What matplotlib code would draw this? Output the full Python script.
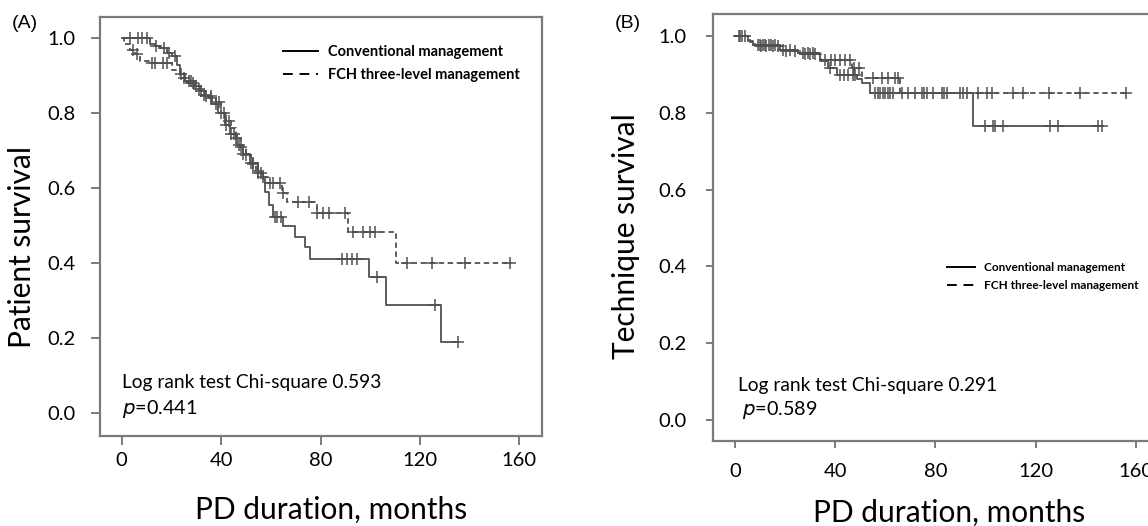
import numpy as np
import matplotlib.pyplot as plt
from matplotlib.lines import Line2D

plt.rcParams['font.family'] = ['Lato', 'DejaVu Sans']

# ---- panel A: patient survival (time in months, survival fraction) ----
a_conv_t = [0, 11.4, 13.4, 15.4, 18.2, 20.2, 22.2, 23.5, 25.5, 29.5, 31.5, 33.5, 36.3, 38.7,
            41.5, 43.5, 46.4, 48.8, 51.6, 54.8, 56.8, 57.6, 59.2, 60.8, 64.9, 69.7, 73.7,
            75.7, 99.3, 106.5, 128.6]
a_conv_s = [1.0, 0.985, 0.98, 0.975, 0.962, 0.954, 0.93, 0.905, 0.885, 0.872, 0.86, 0.847,
            0.826, 0.80, 0.77, 0.745, 0.715, 0.692, 0.668, 0.64, 0.625, 0.59, 0.555, 0.524,
            0.50, 0.47, 0.443, 0.411, 0.364, 0.289, 0.19]
a_conv_end = 135.3
a_conv_cens = [3.2, 6.4, 8, 10, 14, 17, 19, 21.5, 24, 27, 28, 30, 32, 34, 36, 38, 40, 42, 44,
               45, 47, 49, 52, 53, 55, 56, 61.5, 62.5, 64, 88.6, 90.6, 92.6, 94.6, 102.7,
               126, 135.3]

a_fch_t = [0, 0.8, 1.5, 3.3, 5.3, 7.4, 11.4, 20.1, 23.5, 26, 29, 32, 35, 38, 40, 42, 44, 46,
           48, 50, 52, 54, 56, 58.3, 64.3, 66.7, 78.4, 90.9, 110.5]
a_fch_s = [1.0, 0.99, 0.985, 0.968, 0.958, 0.94, 0.935, 0.915, 0.893, 0.88, 0.865, 0.85,
           0.84, 0.83, 0.80, 0.78, 0.76, 0.735, 0.71, 0.69, 0.665, 0.645, 0.63, 0.614,
           0.588, 0.564, 0.534, 0.484, 0.401]
a_fch_end = 156.2
a_fch_cens = [4.6, 6.2, 12.2, 13.4, 16.6, 18.2, 25, 28.5, 31, 33, 36, 39, 41, 43, 46, 48, 50,
              53, 55, 57, 59.7, 60.9, 63.7, 64.9, 70.9, 75.3, 78.6, 81.0, 83.4, 89.8, 93.0,
              97.1, 99.9, 101.9, 114.8, 124.8, 138.1, 156.2]

# ---- panel B: technique survival ----
b_conv_t = [0, 5.2, 7.2, 18, 25, 34, 37, 40.6, 48.7, 50.6, 53.9, 95.1]
b_conv_s = [1.0, 0.988, 0.977, 0.964, 0.955, 0.936, 0.916, 0.898, 0.888, 0.877, 0.851, 0.766]
b_conv_end = 146.5
b_conv_cens = [1.5, 3, 9, 10, 11, 12, 13.5, 14.5, 16, 19, 22, 27, 29, 31, 38, 42, 43.5, 45,
               47, 48, 56, 57, 58, 59, 60, 61, 62, 63, 66.7, 69.1, 71.9, 74.7, 75.6, 76.6,
               79, 82.6, 83.6, 84.6, 89.8, 91.2, 92.6, 99.8, 103, 103.8, 107, 125.7, 128.9,
               144.9, 146.5]

b_fch_t = [0, 6, 8, 20, 26, 34.5, 46.7, 50.6, 65.9]
b_fch_s = [1.0, 0.985, 0.975, 0.962, 0.952, 0.937, 0.916, 0.89, 0.851]
b_fch_end = 156.1
b_fch_cens = [2, 4, 10.5, 12.5, 15, 17, 20.5, 24, 28, 30, 32, 36, 38.5, 40, 42, 44, 46, 47.5,
              49.5, 55.1, 58.7, 61.1, 63.9, 65.1, 97, 100.6, 102.6, 111, 115, 125.3, 137.7,
              156.1]

series_labels = ['Conventional management', 'FCH three-level management']
x_ticks = [0, 40, 80, 120, 160]
y_ticks = [0.0, 0.2, 0.4, 0.6, 0.8, 1.0]

line_col = '#505050'
spine_col = '#7a7a7a'
dash = (0, (3, 2))


def km_curve(ax, t, s, end, cens, ls):
    t = list(t) + [end]
    s = list(s) + [s[-1]]
    ax.step(t, s, where='post', color=line_col, lw=1.3, linestyle=ls)
    # censor marks sit on the curve level at their time
    idx = np.searchsorted(np.array(t[:-1]), np.array(cens), side='right') - 1
    ax.plot(cens, np.array(s)[idx], '+', color=line_col, ms=8, mew=1.1, linestyle='none')


def style_axes(ax, tlen, ypad, xpad):
    for sp in ax.spines.values():
        sp.set_color(spine_col)
        sp.set_linewidth(1.6)
    ax.set_xticks(x_ticks)
    ax.set_yticks(y_ticks)
    ax.set_yticklabels(['%.1f' % v for v in y_ticks])
    ax.tick_params(axis='both', direction='out', length=tlen, width=1.4, color=spine_col,
                   labelsize=14.5)
    ax.tick_params(axis='y', pad=ypad)
    ax.tick_params(axis='x', pad=xpad)


fig = plt.figure(figsize=(11.48, 5.26), dpi=100)

# panel A
ax1 = fig.add_axes([0.08711, 0.1711, 0.38502, 0.7971])
km_curve(ax1, a_conv_t, a_conv_s, a_conv_end, a_conv_cens, '-')
km_curve(ax1, a_fch_t, a_fch_s, a_fch_end, a_fch_cens, dash)
ax1.set_xlim(-8.73, 169.1)
ax1.set_ylim(-0.0605, 1.0576)
style_axes(ax1, 6.2, 11.5, 5)
ax1.set_ylabel('Patient survival', fontsize=21.5)
ax1.yaxis.set_label_coords(-0.1448, 0.4508)
ax1.set_xlabel('PD duration, months', fontsize=21.5, va='center')
ax1.xaxis.set_label_coords(0.5226, -0.1765)
ax1.text(0, 0.081, 'Log rank test Chi-square 0.593', fontsize=13.8, va='center')
ax1.text(0, 0.0125, '$\\it{p}$=0.441', fontsize=14.2, va='center')

# panel B
ax2 = fig.add_axes([0.6208, 0.1616, 0.3882, 0.8118])
km_curve(ax2, b_conv_t, b_conv_s, b_conv_end, b_conv_cens, '-')
km_curve(ax2, b_fch_t, b_fch_s, b_fch_end, b_fch_cens, dash)
ax2.set_xlim(-8.9, 169)
ax2.set_ylim(-0.0547, 1.0573)
style_axes(ax2, 5, 13.5, 11)
ax2.set_ylabel('Technique survival', fontsize=21.5)
ax2.yaxis.set_label_coords(-0.163, 0.480)
ax2.set_xlabel('PD duration, months', fontsize=21.5, va='center')
ax2.xaxis.set_label_coords(0.530, -0.1686)
ax2.text(1.2, 0.091, 'Log rank test Chi-square 0.291', fontsize=13.8, va='center')
ax2.text(2.7, 0.026, '$\\it{p}$=0.589', fontsize=14.2, va='center')

# legends
handles = [Line2D([], [], color='black', lw=1.4),
           Line2D([], [], color='black', lw=1.4, linestyle=(0, (5, 3.5)))]
for ax, (lx, ly, fs) in [(ax1, (283, 52, 10.5)), (ax2, (947, 265, 8.5))]:
    leg = ax.legend(handles, series_labels, loc='center left',
                    bbox_to_anchor=(lx / 1148, 1 - (ly + 11.5) / 526),
                    bbox_transform=fig.transFigure, frameon=False,
                    prop={'weight': 'bold', 'size': fs}, handlelength=2.4,
                    handletextpad=0.7, labelspacing=0.6, borderpad=0, borderaxespad=0)

fig.text(12 / 1148, 1 - 24 / 526, '(A)', fontsize=14, family='Liberation Sans', va='center')
fig.text(615 / 1148, 1 - 23 / 526, '(B)', fontsize=14, family='Liberation Sans', va='center')

fig.savefig('out.png', dpi=100)
